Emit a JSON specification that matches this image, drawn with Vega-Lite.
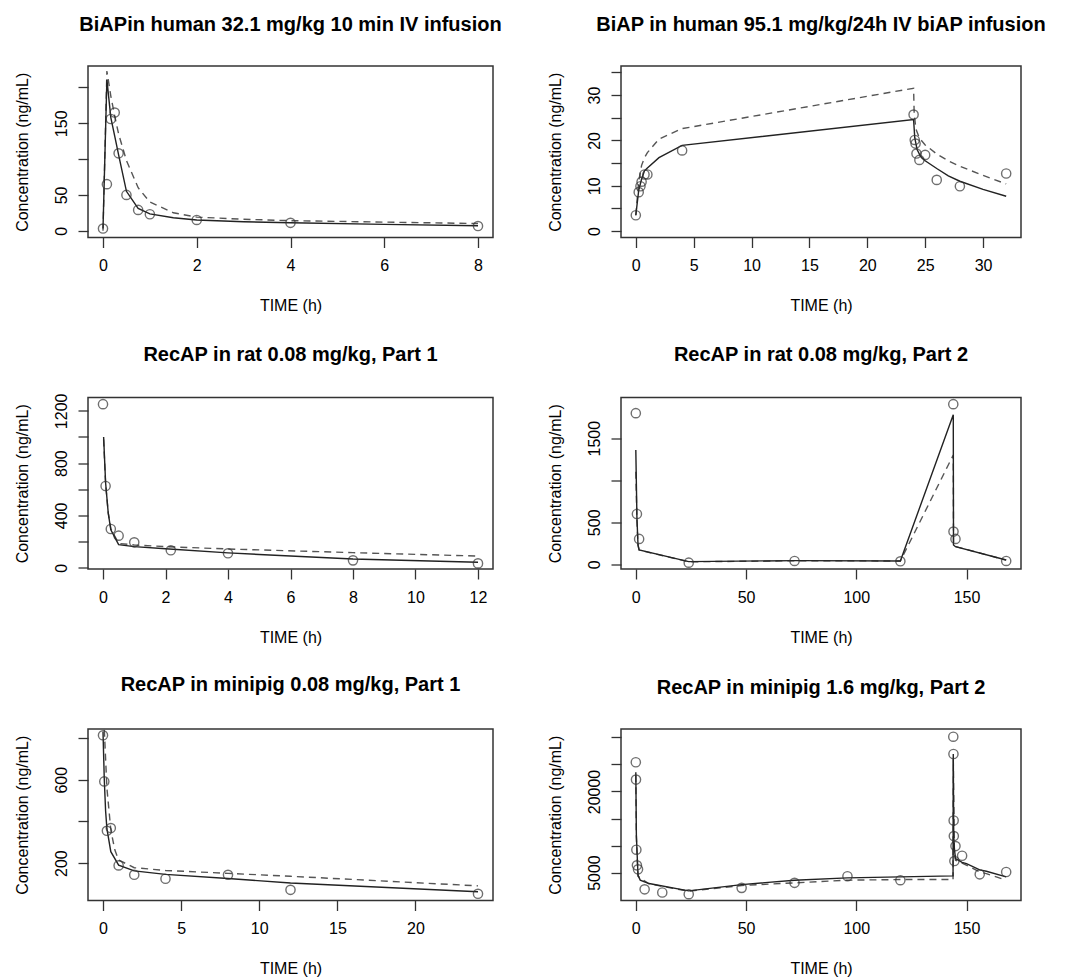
{
  "$schema": "https://vega.github.io/schema/vega-lite/v6.json",
  "background": "white",
  "padding": {"left": 13, "top": 13, "right": 5, "bottom": 5},
  "config": {
    "font": "Liberation Sans",
    "view": {"stroke": "#333", "strokeWidth": 1.5},
    "axis": {"domain": false, "grid": false, "tickColor": "#333", "tickSize": 10, "tickWidth": 1.3,
      "labelFont": "Liberation Sans", "labelFontSize": 16, "labelColor": "#000",
      "titleFont": "Liberation Sans", "titleFontSize": 16, "titleFontWeight": "normal", "titleColor": "#000",
      "labelOverlap": false, "labelFlush": false, "labelBound": false, "format": "d"},
    "axisY": {"labelAngle": -90, "labelAlign": "center", "labelBaseline": "bottom", "labelPadding": 9, "titlePadding": 23},
    "axisX": {"labelPadding": 10, "titlePadding": 24},
    "title": {"font": "Liberation Sans", "fontSize": 20, "fontWeight": "bold", "color": "#000", "baseline": "alphabetic", "offset": 31.5, "frame": "group"}
  },
  "datasets": {
    "pk": [
      {"panel":1,"series":"obs","t":0,"c":3},{"panel":1,"series":"obs","t":0.083,"c":65},{"panel":1,"series":"obs","t":0.167,"c":156},{"panel":1,"series":"obs","t":0.25,"c":165},{"panel":1,"series":"obs","t":0.333,"c":108},{"panel":1,"series":"obs","t":0.5,"c":50},{"panel":1,"series":"obs","t":0.75,"c":29},{"panel":1,"series":"obs","t":1,"c":23},{"panel":1,"series":"obs","t":2,"c":15},{"panel":1,"series":"obs","t":4,"c":11},{"panel":1,"series":"obs","t":8,"c":6.5},
      {"panel":1,"series":"solid","t":0,"c":3},{"panel":1,"series":"solid","t":0.083,"c":211},{"panel":1,"series":"solid","t":0.167,"c":158},{"panel":1,"series":"solid","t":0.25,"c":132},{"panel":1,"series":"solid","t":0.333,"c":106},{"panel":1,"series":"solid","t":0.5,"c":55},{"panel":1,"series":"solid","t":0.75,"c":31},{"panel":1,"series":"solid","t":1,"c":23.5},{"panel":1,"series":"solid","t":1.5,"c":18},{"panel":1,"series":"solid","t":2,"c":15},{"panel":1,"series":"solid","t":3,"c":12.5},{"panel":1,"series":"solid","t":4,"c":11},{"panel":1,"series":"solid","t":6,"c":8.8},{"panel":1,"series":"solid","t":8,"c":7},
      {"panel":1,"series":"dashed","t":0,"c":0},{"panel":1,"series":"dashed","t":0.083,"c":223},{"panel":1,"series":"dashed","t":0.167,"c":188},{"panel":1,"series":"dashed","t":0.25,"c":160},{"panel":1,"series":"dashed","t":0.333,"c":135},{"panel":1,"series":"dashed","t":0.5,"c":98},{"panel":1,"series":"dashed","t":0.75,"c":60},{"panel":1,"series":"dashed","t":1,"c":40},{"panel":1,"series":"dashed","t":1.5,"c":25},{"panel":1,"series":"dashed","t":2,"c":19},{"panel":1,"series":"dashed","t":3,"c":16},{"panel":1,"series":"dashed","t":4,"c":14},{"panel":1,"series":"dashed","t":6,"c":12},{"panel":1,"series":"dashed","t":8,"c":10},

      {"panel":2,"series":"obs","t":0,"c":3.5},{"panel":2,"series":"obs","t":0.25,"c":8.6},{"panel":2,"series":"obs","t":0.4,"c":9.9},{"panel":2,"series":"obs","t":0.5,"c":10.9},{"panel":2,"series":"obs","t":0.75,"c":12.5},{"panel":2,"series":"obs","t":1,"c":12.5},{"panel":2,"series":"obs","t":4,"c":17.8},{"panel":2,"series":"obs","t":24,"c":25.7},{"panel":2,"series":"obs","t":24.1,"c":20.1},{"panel":2,"series":"obs","t":24.17,"c":19.3},{"panel":2,"series":"obs","t":24.25,"c":17.1},{"panel":2,"series":"obs","t":24.5,"c":15.7},{"panel":2,"series":"obs","t":25,"c":16.8},{"panel":2,"series":"obs","t":26,"c":11.3},{"panel":2,"series":"obs","t":28,"c":9.9},{"panel":2,"series":"obs","t":32,"c":12.7},
      {"panel":2,"series":"solid","t":0,"c":3.5},{"panel":2,"series":"solid","t":0.25,"c":9},{"panel":2,"series":"solid","t":0.5,"c":11.5},{"panel":2,"series":"solid","t":0.75,"c":13.3},{"panel":2,"series":"solid","t":1,"c":13.9},{"panel":2,"series":"solid","t":2,"c":16.2},{"panel":2,"series":"solid","t":4,"c":18.9},{"panel":2,"series":"solid","t":24,"c":24.6},{"panel":2,"series":"solid","t":24.1,"c":20.6},{"panel":2,"series":"solid","t":24.3,"c":18},{"panel":2,"series":"solid","t":24.6,"c":16.5},{"panel":2,"series":"solid","t":25,"c":15.5},{"panel":2,"series":"solid","t":26,"c":13.8},{"panel":2,"series":"solid","t":27,"c":12.2},{"panel":2,"series":"solid","t":28,"c":11},{"panel":2,"series":"solid","t":30,"c":9.2},{"panel":2,"series":"solid","t":32,"c":7.7},
      {"panel":2,"series":"dashed","t":0,"c":3.5},{"panel":2,"series":"dashed","t":0.25,"c":11},{"panel":2,"series":"dashed","t":0.5,"c":14.5},{"panel":2,"series":"dashed","t":0.75,"c":16.2},{"panel":2,"series":"dashed","t":1,"c":17.3},{"panel":2,"series":"dashed","t":2,"c":20.3},{"panel":2,"series":"dashed","t":4,"c":22.6},{"panel":2,"series":"dashed","t":24,"c":31.5},{"panel":2,"series":"dashed","t":24.05,"c":26},{"panel":2,"series":"dashed","t":24.2,"c":22.5},{"panel":2,"series":"dashed","t":24.5,"c":20.5},{"panel":2,"series":"dashed","t":25,"c":19},{"panel":2,"series":"dashed","t":26,"c":17},{"panel":2,"series":"dashed","t":27,"c":15.5},{"panel":2,"series":"dashed","t":28,"c":14.3},{"panel":2,"series":"dashed","t":30,"c":12.3},{"panel":2,"series":"dashed","t":32,"c":10.4},

      {"panel":3,"series":"obs","t":0,"c":1251},{"panel":3,"series":"obs","t":0.083,"c":625},{"panel":3,"series":"obs","t":0.25,"c":296},{"panel":3,"series":"obs","t":0.5,"c":245},{"panel":3,"series":"obs","t":1,"c":194},{"panel":3,"series":"obs","t":2.17,"c":133},{"panel":3,"series":"obs","t":4,"c":110},{"panel":3,"series":"obs","t":8,"c":56},{"panel":3,"series":"obs","t":12,"c":33},
      {"panel":3,"series":"solid","t":0.02,"c":1000},{"panel":3,"series":"solid","t":0.083,"c":650},{"panel":3,"series":"solid","t":0.167,"c":420},{"panel":3,"series":"solid","t":0.25,"c":290},{"panel":3,"series":"solid","t":0.5,"c":176},{"panel":3,"series":"solid","t":1,"c":161},{"panel":3,"series":"solid","t":2,"c":145},{"panel":3,"series":"solid","t":4,"c":113},{"panel":3,"series":"solid","t":8,"c":66},{"panel":3,"series":"solid","t":12,"c":42},
      {"panel":3,"series":"dashed","t":0.02,"c":980},{"panel":3,"series":"dashed","t":0.083,"c":640},{"panel":3,"series":"dashed","t":0.167,"c":420},{"panel":3,"series":"dashed","t":0.25,"c":300},{"panel":3,"series":"dashed","t":0.5,"c":185},{"panel":3,"series":"dashed","t":1,"c":174},{"panel":3,"series":"dashed","t":2,"c":161},{"panel":3,"series":"dashed","t":4,"c":143},{"panel":3,"series":"dashed","t":8,"c":115},{"panel":3,"series":"dashed","t":12,"c":89},

      {"panel":4,"series":"obs","t":0,"c":1798},{"panel":4,"series":"obs","t":0.5,"c":599},{"panel":4,"series":"obs","t":1.5,"c":302},{"panel":4,"series":"obs","t":24,"c":20},{"panel":4,"series":"obs","t":72,"c":40},{"panel":4,"series":"obs","t":120,"c":36},{"panel":4,"series":"obs","t":144,"c":1905},{"panel":4,"series":"obs","t":144.1,"c":389},{"panel":4,"series":"obs","t":145,"c":302},{"panel":4,"series":"obs","t":168,"c":40},
      {"panel":4,"series":"solid","t":0,"c":1360},{"panel":4,"series":"solid","t":0.5,"c":560},{"panel":4,"series":"solid","t":1,"c":230},{"panel":4,"series":"solid","t":1.5,"c":171},{"panel":4,"series":"solid","t":24,"c":32},{"panel":4,"series":"solid","t":72,"c":44},{"panel":4,"series":"solid","t":120,"c":40},{"panel":4,"series":"solid","t":144,"c":1778},{"panel":4,"series":"solid","t":144.1,"c":230},{"panel":4,"series":"solid","t":145,"c":210},{"panel":4,"series":"solid","t":168,"c":52},
      {"panel":4,"series":"dashed","t":0,"c":1100},{"panel":4,"series":"dashed","t":0.5,"c":520},{"panel":4,"series":"dashed","t":1,"c":225},{"panel":4,"series":"dashed","t":1.5,"c":170},{"panel":4,"series":"dashed","t":24,"c":30},{"panel":4,"series":"dashed","t":72,"c":42},{"panel":4,"series":"dashed","t":120,"c":40},{"panel":4,"series":"dashed","t":144,"c":1300},{"panel":4,"series":"dashed","t":144.1,"c":235},{"panel":4,"series":"dashed","t":145,"c":212},{"panel":4,"series":"dashed","t":168,"c":50},

      {"panel":5,"series":"obs","t":0,"c":813},{"panel":5,"series":"obs","t":0.083,"c":592},{"panel":5,"series":"obs","t":0.25,"c":355},{"panel":5,"series":"obs","t":0.5,"c":368},{"panel":5,"series":"obs","t":1,"c":189},{"panel":5,"series":"obs","t":2,"c":144},{"panel":5,"series":"obs","t":4,"c":125},{"panel":5,"series":"obs","t":8,"c":144},{"panel":5,"series":"obs","t":12,"c":72},{"panel":5,"series":"obs","t":24,"c":53},
      {"panel":5,"series":"solid","t":0,"c":830},{"panel":5,"series":"solid","t":0.083,"c":600},{"panel":5,"series":"solid","t":0.167,"c":450},{"panel":5,"series":"solid","t":0.25,"c":365},{"panel":5,"series":"solid","t":0.5,"c":255},{"panel":5,"series":"solid","t":1,"c":190},{"panel":5,"series":"solid","t":2,"c":163},{"panel":5,"series":"solid","t":4,"c":146},{"panel":5,"series":"solid","t":8,"c":126},{"panel":5,"series":"solid","t":12,"c":105},{"panel":5,"series":"solid","t":24,"c":63},
      {"panel":5,"series":"dashed","t":0.083,"c":840},{"panel":5,"series":"dashed","t":0.25,"c":560},{"panel":5,"series":"dashed","t":0.5,"c":360},{"panel":5,"series":"dashed","t":0.75,"c":265},{"panel":5,"series":"dashed","t":1,"c":215},{"panel":5,"series":"dashed","t":2,"c":178},{"panel":5,"series":"dashed","t":4,"c":165},{"panel":5,"series":"dashed","t":8,"c":151},{"panel":5,"series":"dashed","t":12,"c":137},{"panel":5,"series":"dashed","t":24,"c":91},

      {"panel":6,"series":"obs","t":0,"c":25400},{"panel":6,"series":"obs","t":0.083,"c":22200},{"panel":6,"series":"obs","t":0.25,"c":9230},{"panel":6,"series":"obs","t":0.5,"c":6340},{"panel":6,"series":"obs","t":1,"c":5600},{"panel":6,"series":"obs","t":4,"c":1900},{"panel":6,"series":"obs","t":12,"c":1310},{"panel":6,"series":"obs","t":24,"c":1000},{"panel":6,"series":"obs","t":48,"c":2170},{"panel":6,"series":"obs","t":72,"c":3100},{"panel":6,"series":"obs","t":96,"c":4320},{"panel":6,"series":"obs","t":120,"c":3590},{"panel":6,"series":"obs","t":144,"c":30130},{"panel":6,"series":"obs","t":144.08,"c":26930},{"panel":6,"series":"obs","t":144.17,"c":14640},{"panel":6,"series":"obs","t":144.25,"c":11750},{"panel":6,"series":"obs","t":144.5,"c":7130},{"panel":6,"series":"obs","t":145,"c":9900},{"panel":6,"series":"obs","t":148,"c":8110},{"panel":6,"series":"obs","t":156,"c":4670},{"panel":6,"series":"obs","t":168,"c":5100},
      {"panel":6,"series":"solid","t":0,"c":23550},{"panel":6,"series":"solid","t":0.25,"c":12000},{"panel":6,"series":"solid","t":0.5,"c":9400},{"panel":6,"series":"solid","t":1,"c":4500},{"panel":6,"series":"solid","t":2,"c":3600},{"panel":6,"series":"solid","t":6,"c":2970},{"panel":6,"series":"solid","t":24,"c":1620},{"panel":6,"series":"solid","t":48,"c":2780},{"panel":6,"series":"solid","t":72,"c":3590},{"panel":6,"series":"solid","t":96,"c":4010},{"panel":6,"series":"solid","t":120,"c":4200},{"panel":6,"series":"solid","t":143.9,"c":4380},{"panel":6,"series":"solid","t":144,"c":26930},{"panel":6,"series":"solid","t":144.2,"c":12000},{"panel":6,"series":"solid","t":144.5,"c":9430},{"panel":6,"series":"solid","t":145,"c":7580},{"panel":6,"series":"solid","t":148,"c":6900},{"panel":6,"series":"solid","t":150,"c":6660},{"panel":6,"series":"solid","t":156,"c":5500},{"panel":6,"series":"solid","t":159,"c":5240},{"panel":6,"series":"solid","t":168,"c":4200},
      {"panel":6,"series":"dashed","t":0,"c":23000},{"panel":6,"series":"dashed","t":0.25,"c":11500},{"panel":6,"series":"dashed","t":0.5,"c":9000},{"panel":6,"series":"dashed","t":1,"c":4300},{"panel":6,"series":"dashed","t":6,"c":2900},{"panel":6,"series":"dashed","t":24,"c":1560},{"panel":6,"series":"dashed","t":48,"c":2600},{"panel":6,"series":"dashed","t":72,"c":3100},{"panel":6,"series":"dashed","t":96,"c":3590},{"panel":6,"series":"dashed","t":120,"c":3710},{"panel":6,"series":"dashed","t":143.9,"c":3710},{"panel":6,"series":"dashed","t":144,"c":26000},{"panel":6,"series":"dashed","t":144.5,"c":9000},{"panel":6,"series":"dashed","t":145,"c":7300},{"panel":6,"series":"dashed","t":147,"c":6970},{"panel":6,"series":"dashed","t":156,"c":5100},{"panel":6,"series":"dashed","t":159,"c":4810},{"panel":6,"series":"dashed","t":168,"c":3590}
    ]
  },
  "data": {"name": "pk"},
  "columns": 2,
  "bounds": "flush",
  "spacing": {"row": 159.5, "column": 128},
  "concat": [
    {
      "width": 405, "height": 171.5,
      "title": {"text": "BiAPin human 32.1 mg/kg 10 min IV infusion"},
      "transform": [{"filter": "datum.panel == 1"}],
      "encoding": {
        "x": {"field": "t", "type": "quantitative", "scale": {"domain": [-0.32, 8.32], "nice": false, "zero": false}, "axis": {"values": [0,2,4,6,8], "title": "TIME (h)"}},
        "y": {"field": "c", "type": "quantitative", "scale": {"domain": [-9.5, 230], "nice": false, "zero": false}, "axis": {"values": [0,50,100,150,200], "labelExpr": "indexof([0,50,150], datum.value) >= 0 ? datum.label : ''", "title": "Concentration (ng/mL)"}}
      },
      "layer": [
        {"transform": [{"filter": "datum.series == 'dashed'"}], "mark": {"type": "line", "color": "#555", "strokeWidth": 1.4, "strokeDash": [7, 5]}, "encoding": {}},
        {"transform": [{"filter": "datum.series == 'solid'"}], "mark": {"type": "line", "color": "#222", "strokeWidth": 1.4}, "encoding": {}},
        {"transform": [{"filter": "datum.series == 'obs'"}], "mark": {"type": "point", "shape": "circle", "filled": false, "size": 85, "stroke": "#333", "strokeWidth": 1.4}}
      ]
    },
    {
      "width": 400, "height": 171.5,
      "title": {"text": "BiAP in human 95.1 mg/kg/24h IV biAP infusion"},
      "transform": [{"filter": "datum.panel == 2"}],
      "encoding": {
        "x": {"field": "t", "type": "quantitative", "scale": {"domain": [-1.28, 33.28], "nice": false, "zero": false}, "axis": {"values": [0,5,10,15,20,25,30], "title": "TIME (h)"}},
        "y": {"field": "c", "type": "quantitative", "scale": {"domain": [-1.4, 36.4], "nice": false, "zero": false}, "axis": {"values": [0,5,10,15,20,25,30,35], "labelExpr": "indexof([0,10,20,30], datum.value) >= 0 ? datum.label : ''", "title": "Concentration (ng/mL)"}}
      },
      "layer": [
        {"transform": [{"filter": "datum.series == 'dashed'"}], "mark": {"type": "line", "color": "#555", "strokeWidth": 1.4, "strokeDash": [7, 5]}, "encoding": {}},
        {"transform": [{"filter": "datum.series == 'solid'"}], "mark": {"type": "line", "color": "#222", "strokeWidth": 1.4}, "encoding": {}},
        {"transform": [{"filter": "datum.series == 'obs'"}], "mark": {"type": "point", "shape": "circle", "filled": false, "size": 85, "stroke": "#333", "strokeWidth": 1.4}}
      ]
    },
    {
      "width": 405, "height": 171.5,
      "title": {"text": "RecAP in rat 0.08 mg/kg, Part 1", "offset": 28},
      "transform": [{"filter": "datum.panel == 3"}],
      "encoding": {
        "x": {"field": "t", "type": "quantitative", "scale": {"domain": [-0.48, 12.48], "nice": false, "zero": false}, "axis": {"values": [0,2,4,6,8,10,12], "title": "TIME (h)"}},
        "y": {"field": "c", "type": "quantitative", "scale": {"domain": [-10, 1302], "nice": false, "zero": false}, "axis": {"values": [0,200,400,600,800,1000,1200], "labelExpr": "indexof([0,400,800,1200], datum.value) >= 0 ? datum.label : ''", "title": "Concentration (ng/mL)"}}
      },
      "layer": [
        {"transform": [{"filter": "datum.series == 'dashed'"}], "mark": {"type": "line", "color": "#555", "strokeWidth": 1.4, "strokeDash": [7, 5]}, "encoding": {}},
        {"transform": [{"filter": "datum.series == 'solid'"}], "mark": {"type": "line", "color": "#222", "strokeWidth": 1.4}, "encoding": {}},
        {"transform": [{"filter": "datum.series == 'obs'"}], "mark": {"type": "point", "shape": "circle", "filled": false, "size": 85, "stroke": "#333", "strokeWidth": 1.4}}
      ]
    },
    {
      "width": 400, "height": 171.5,
      "title": {"text": "RecAP in rat 0.08 mg/kg, Part 2"},
      "transform": [{"filter": "datum.panel == 4"}],
      "encoding": {
        "x": {"field": "t", "type": "quantitative", "scale": {"domain": [-6.72, 174.72], "nice": false, "zero": false}, "axis": {"values": [0,50,100,150], "title": "TIME (h)"}},
        "y": {"field": "c", "type": "quantitative", "scale": {"domain": [-55.6, 1984], "nice": false, "zero": false}, "axis": {"values": [0,500,1000,1500], "labelExpr": "indexof([0,500,1500], datum.value) >= 0 ? datum.label : ''", "title": "Concentration (ng/mL)"}}
      },
      "layer": [
        {"transform": [{"filter": "datum.series == 'dashed'"}], "mark": {"type": "line", "color": "#555", "strokeWidth": 1.4, "strokeDash": [7, 5]}, "encoding": {}},
        {"transform": [{"filter": "datum.series == 'solid'"}], "mark": {"type": "line", "color": "#222", "strokeWidth": 1.4}, "encoding": {}},
        {"transform": [{"filter": "datum.series == 'obs'"}], "mark": {"type": "point", "shape": "circle", "filled": false, "size": 85, "stroke": "#333", "strokeWidth": 1.4}}
      ]
    },
    {
      "width": 405, "height": 171.5,
      "title": {"text": "RecAP in minipig 0.08 mg/kg, Part 1"},
      "transform": [{"filter": "datum.panel == 5"}],
      "encoding": {
        "x": {"field": "t", "type": "quantitative", "scale": {"domain": [-0.96, 24.96], "nice": false, "zero": false}, "axis": {"values": [0,5,10,15,20], "title": "TIME (h)"}},
        "y": {"field": "c", "type": "quantitative", "scale": {"domain": [20.8, 843.2], "nice": false, "zero": false}, "axis": {"values": [200,400,600,800], "labelExpr": "indexof([200,600], datum.value) >= 0 ? datum.label : ''", "title": "Concentration (ng/mL)"}}
      },
      "layer": [
        {"transform": [{"filter": "datum.series == 'dashed'"}], "mark": {"type": "line", "color": "#555", "strokeWidth": 1.4, "strokeDash": [7, 5]}, "encoding": {}},
        {"transform": [{"filter": "datum.series == 'solid'"}], "mark": {"type": "line", "color": "#222", "strokeWidth": 1.4}, "encoding": {}},
        {"transform": [{"filter": "datum.series == 'obs'"}], "mark": {"type": "point", "shape": "circle", "filled": false, "size": 85, "stroke": "#333", "strokeWidth": 1.4}}
      ]
    },
    {
      "width": 400, "height": 171.5,
      "title": {"text": "RecAP in minipig 1.6 mg/kg, Part 2"},
      "transform": [{"filter": "datum.panel == 6"}],
      "encoding": {
        "x": {"field": "t", "type": "quantitative", "scale": {"domain": [-6.72, 174.72], "nice": false, "zero": false}, "axis": {"values": [0,50,100,150], "title": "TIME (h)"}},
        "y": {"field": "c", "type": "quantitative", "scale": {"domain": [-166, 31555], "nice": false, "zero": false}, "axis": {"values": [5000,10000,15000,20000,25000,30000], "labelExpr": "indexof([5000,20000], datum.value) >= 0 ? datum.label : ''", "title": "Concentration (ng/mL)"}}
      },
      "layer": [
        {"transform": [{"filter": "datum.series == 'dashed'"}], "mark": {"type": "line", "color": "#555", "strokeWidth": 1.4, "strokeDash": [7, 5]}, "encoding": {}},
        {"transform": [{"filter": "datum.series == 'solid'"}], "mark": {"type": "line", "color": "#222", "strokeWidth": 1.4}, "encoding": {}},
        {"transform": [{"filter": "datum.series == 'obs'"}], "mark": {"type": "point", "shape": "circle", "filled": false, "size": 85, "stroke": "#333", "strokeWidth": 1.4}}
      ]
    }
  ]
}
